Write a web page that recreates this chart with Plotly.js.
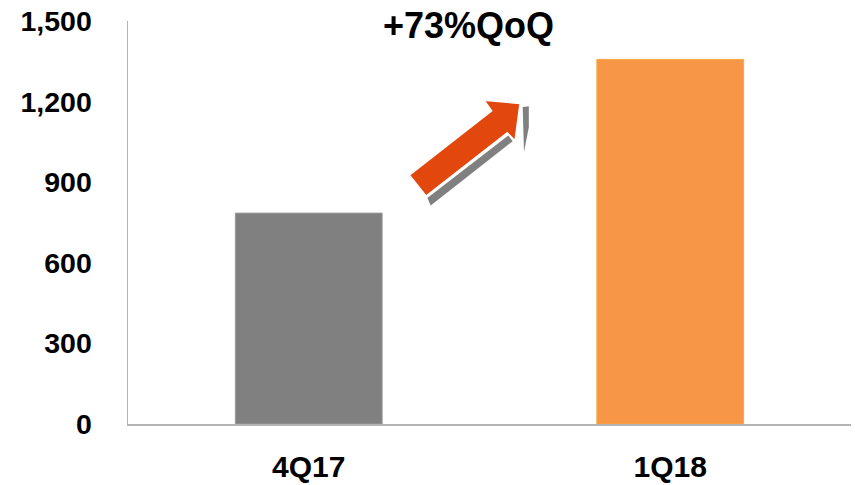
<!DOCTYPE html>
<html>
<head>
<meta charset="utf-8">
<script src="https://cdn.plot.ly/plotly-3.0.1.min.js"></script>
<style>html,body{margin:0;padding:0;background:#fff;}#chart{width:855px;height:485px;}</style>
</head>
<body>
<div id="chart"></div>
<script>
var categories = ['4Q17', '1Q18'];
var values = [785, 1357];
var barColors = ['#808080', '#F79646'];
var yTickVals = [0, 300, 600, 900, 1200, 1500];
var yTickText = ['0', '300', '600', '900', '1,200', '1,500'];
var growthLabel = '+73%QoQ';

var trace = {
  type: 'bar',
  x: categories,
  y: values,
  width: 0.406,
  marker: {color: barColors, line: {color: ['#9a9a9a', '#F8A640'], width: 1}},
  hoverinfo: 'none'
};

// decorative block arrow (pixel-derived paper coordinates)
var W = 855, H = 485, L = 128, R = 4, T = 20.7, B = 60.7;
function px(x){ return ((x - L) / (W - L - R)).toFixed(4); }
function py(y){ return ((H - B - y) / (H - T - B)).toFixed(4); }
function poly(pts){ return 'M' + pts.map(function(p){ return px(p[0]) + ',' + py(p[1]); }).join(' L') + ' Z'; }

var shapes = [
  {type: 'path', xref: 'paper', yref: 'paper', layer: 'above',
   path: poly([[427.3,198],[508.3,135.5],[512.7,141],[430.7,205.5]]),
   fillcolor: '#808080', line: {width: 0}},
  {type: 'path', xref: 'paper', yref: 'paper', layer: 'above',
   path: poly([[522.7,106.7],[528.8,106],[528.8,127],[524,152]]),
   fillcolor: '#808080', line: {width: 0}},
  {type: 'path', xref: 'paper', yref: 'paper', layer: 'above',
   path: poly([[409.3,175],[426,196],[507.3,132.7],[515,140.7],[520,103.3],[484,100],[491.7,110.7]]),
   fillcolor: '#E2470E', line: {color: '#ffffff', width: 1.5}}
];

var layout = {
  width: 855, height: 485,
  margin: {l: L, r: R, t: T, b: B, pad: 0},
  paper_bgcolor: '#ffffff', plot_bgcolor: '#ffffff',
  showlegend: false,
  font: {family: 'Liberation Sans, Arial, sans-serif', color: '#000'},
  xaxis: {
    type: 'category', range: [-0.5, 1.5],
    showline: true, linecolor: '#b3b3b3', linewidth: 1.5,
    showgrid: false, zeroline: false, ticks: '',
    ticklabelstandoff: 15,
    tickfont: {family: 'Liberation Sans, Arial, sans-serif', size: 30, color: '#000', weight: 'bold'}
  },
  yaxis: {
    range: [0, 1500], tickvals: yTickVals, ticktext: yTickText,
    showline: true, linecolor: '#b3b3b3', linewidth: 1.5,
    showgrid: false, zeroline: false, ticks: '',
    ticklabelstandoff: 29,
    tickfont: {family: 'Liberation Sans, Arial, sans-serif', size: 28.5, color: '#000', weight: 'bold'}
  },
  annotations: [{
    text: '<b>' + growthLabel + '</b>', xref: 'paper', yref: 'paper',
    x: px(469), y: py(25), xanchor: 'center', yanchor: 'middle', showarrow: false,
    font: {family: 'Liberation Sans, Arial, sans-serif', size: 36, color: '#000'}
  }],
  shapes: shapes
};

Plotly.newPlot('chart', [trace], layout, {displayModeBar: false, staticPlot: true});
</script>
</body>
</html>
